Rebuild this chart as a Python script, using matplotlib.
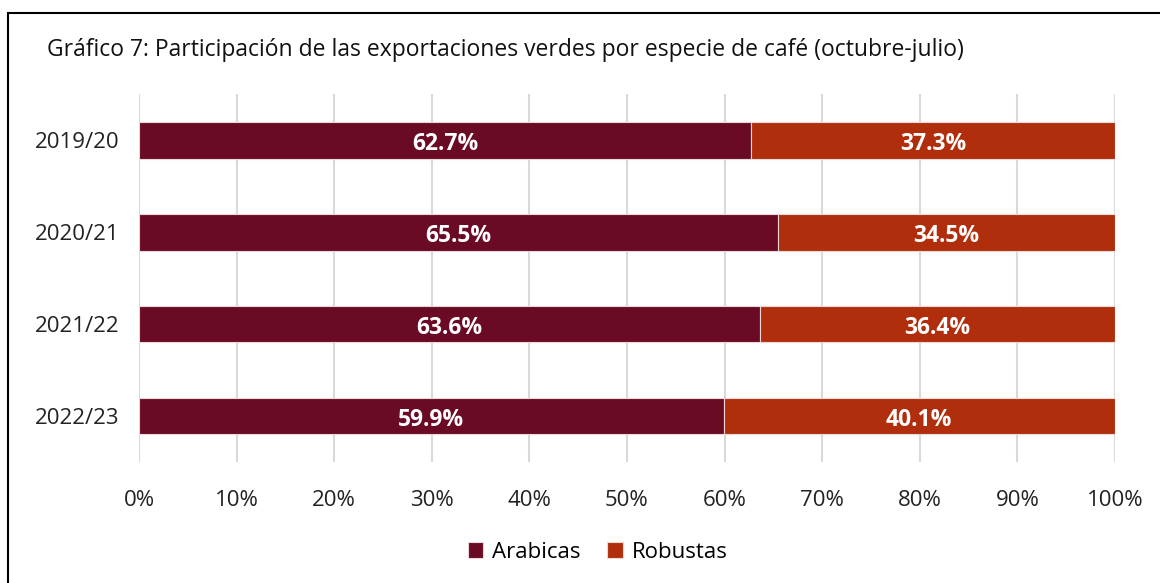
import numpy as np
from matplotlib import pyplot as plt
from matplotlib.patches import Rectangle

# Datos
campanas = ['2019/20', '2020/21', '2021/22', '2022/23']
arabicas = [62.7, 65.5, 63.6, 59.9]
robustas = [37.3, 34.5, 36.4, 40.1]

col_arab = '#6B0A25'
col_rob = '#B12E0C'

plt.rcParams['font.family'] = ['Open Sans', 'DejaVu Sans']

fig = plt.figure(figsize=(11.6, 5.83), dpi=100)
ax = fig.add_axes([0.1198, 0.2075, 0.8414, 0.631])

y = np.arange(len(campanas))
b1 = ax.barh(y, arabicas, height=0.4, color=col_arab, edgecolor='#E8D8D8', linewidth=0.8,
             label='Arabicas', zorder=3)
b2 = ax.barh(y, robustas, left=arabicas, height=0.4, color=col_rob, edgecolor='#E8D8D8',
             linewidth=0.8, label='Robustas', zorder=3)

# Etiquetas dentro de las barras
for barras in (b1, b2):
    textos = ax.bar_label(barras, labels=[f'{b.get_width():.1f}%' for b in barras], label_type='center',
                          color='white', fontsize=16.5, fontweight='bold')
    for t in textos:
        t.xyann = (0, -3)

ax.set_xlim(0, 100)
ax.set_ylim(3.5, -0.5)
ax.set_xticks(np.arange(0, 101, 10))
ax.set_xticklabels([f'{v}%' for v in range(0, 101, 10)])
ax.set_yticks(y)
ax.set_yticklabels(campanas)
ax.tick_params(axis='both', length=0, labelsize=16, colors='#222222')
ax.tick_params(axis='x', pad=20)
ax.tick_params(axis='y', pad=14)
ax.grid(axis='x', color='#D9D9D9', linewidth=1.5, zorder=0)
for s in ax.spines.values():
    s.set_visible(False)

# Leyenda
ax.legend(loc='center', bbox_to_anchor=(0.47, -0.245), ncol=2, frameon=False, fontsize=16,
          handlelength=0.7, handleheight=0.7, handletextpad=0.4, columnspacing=1.2)

# Titulo
fig.text(0.0405, 0.915, 'Gráfico 7: Participación de las exportaciones verdes por especie de café (octubre-julio)',
         fontsize=16.5, va='center', ha='left', color='#111111')

# Marco
fig.patches.append(Rectangle((8 / 1160, -0.1), 1.2, 1 - 13 / 583 + 0.1, transform=fig.transFigure,
                             fill=False, edgecolor='black', linewidth=1.5))

fig.savefig('out.png', dpi=100)
